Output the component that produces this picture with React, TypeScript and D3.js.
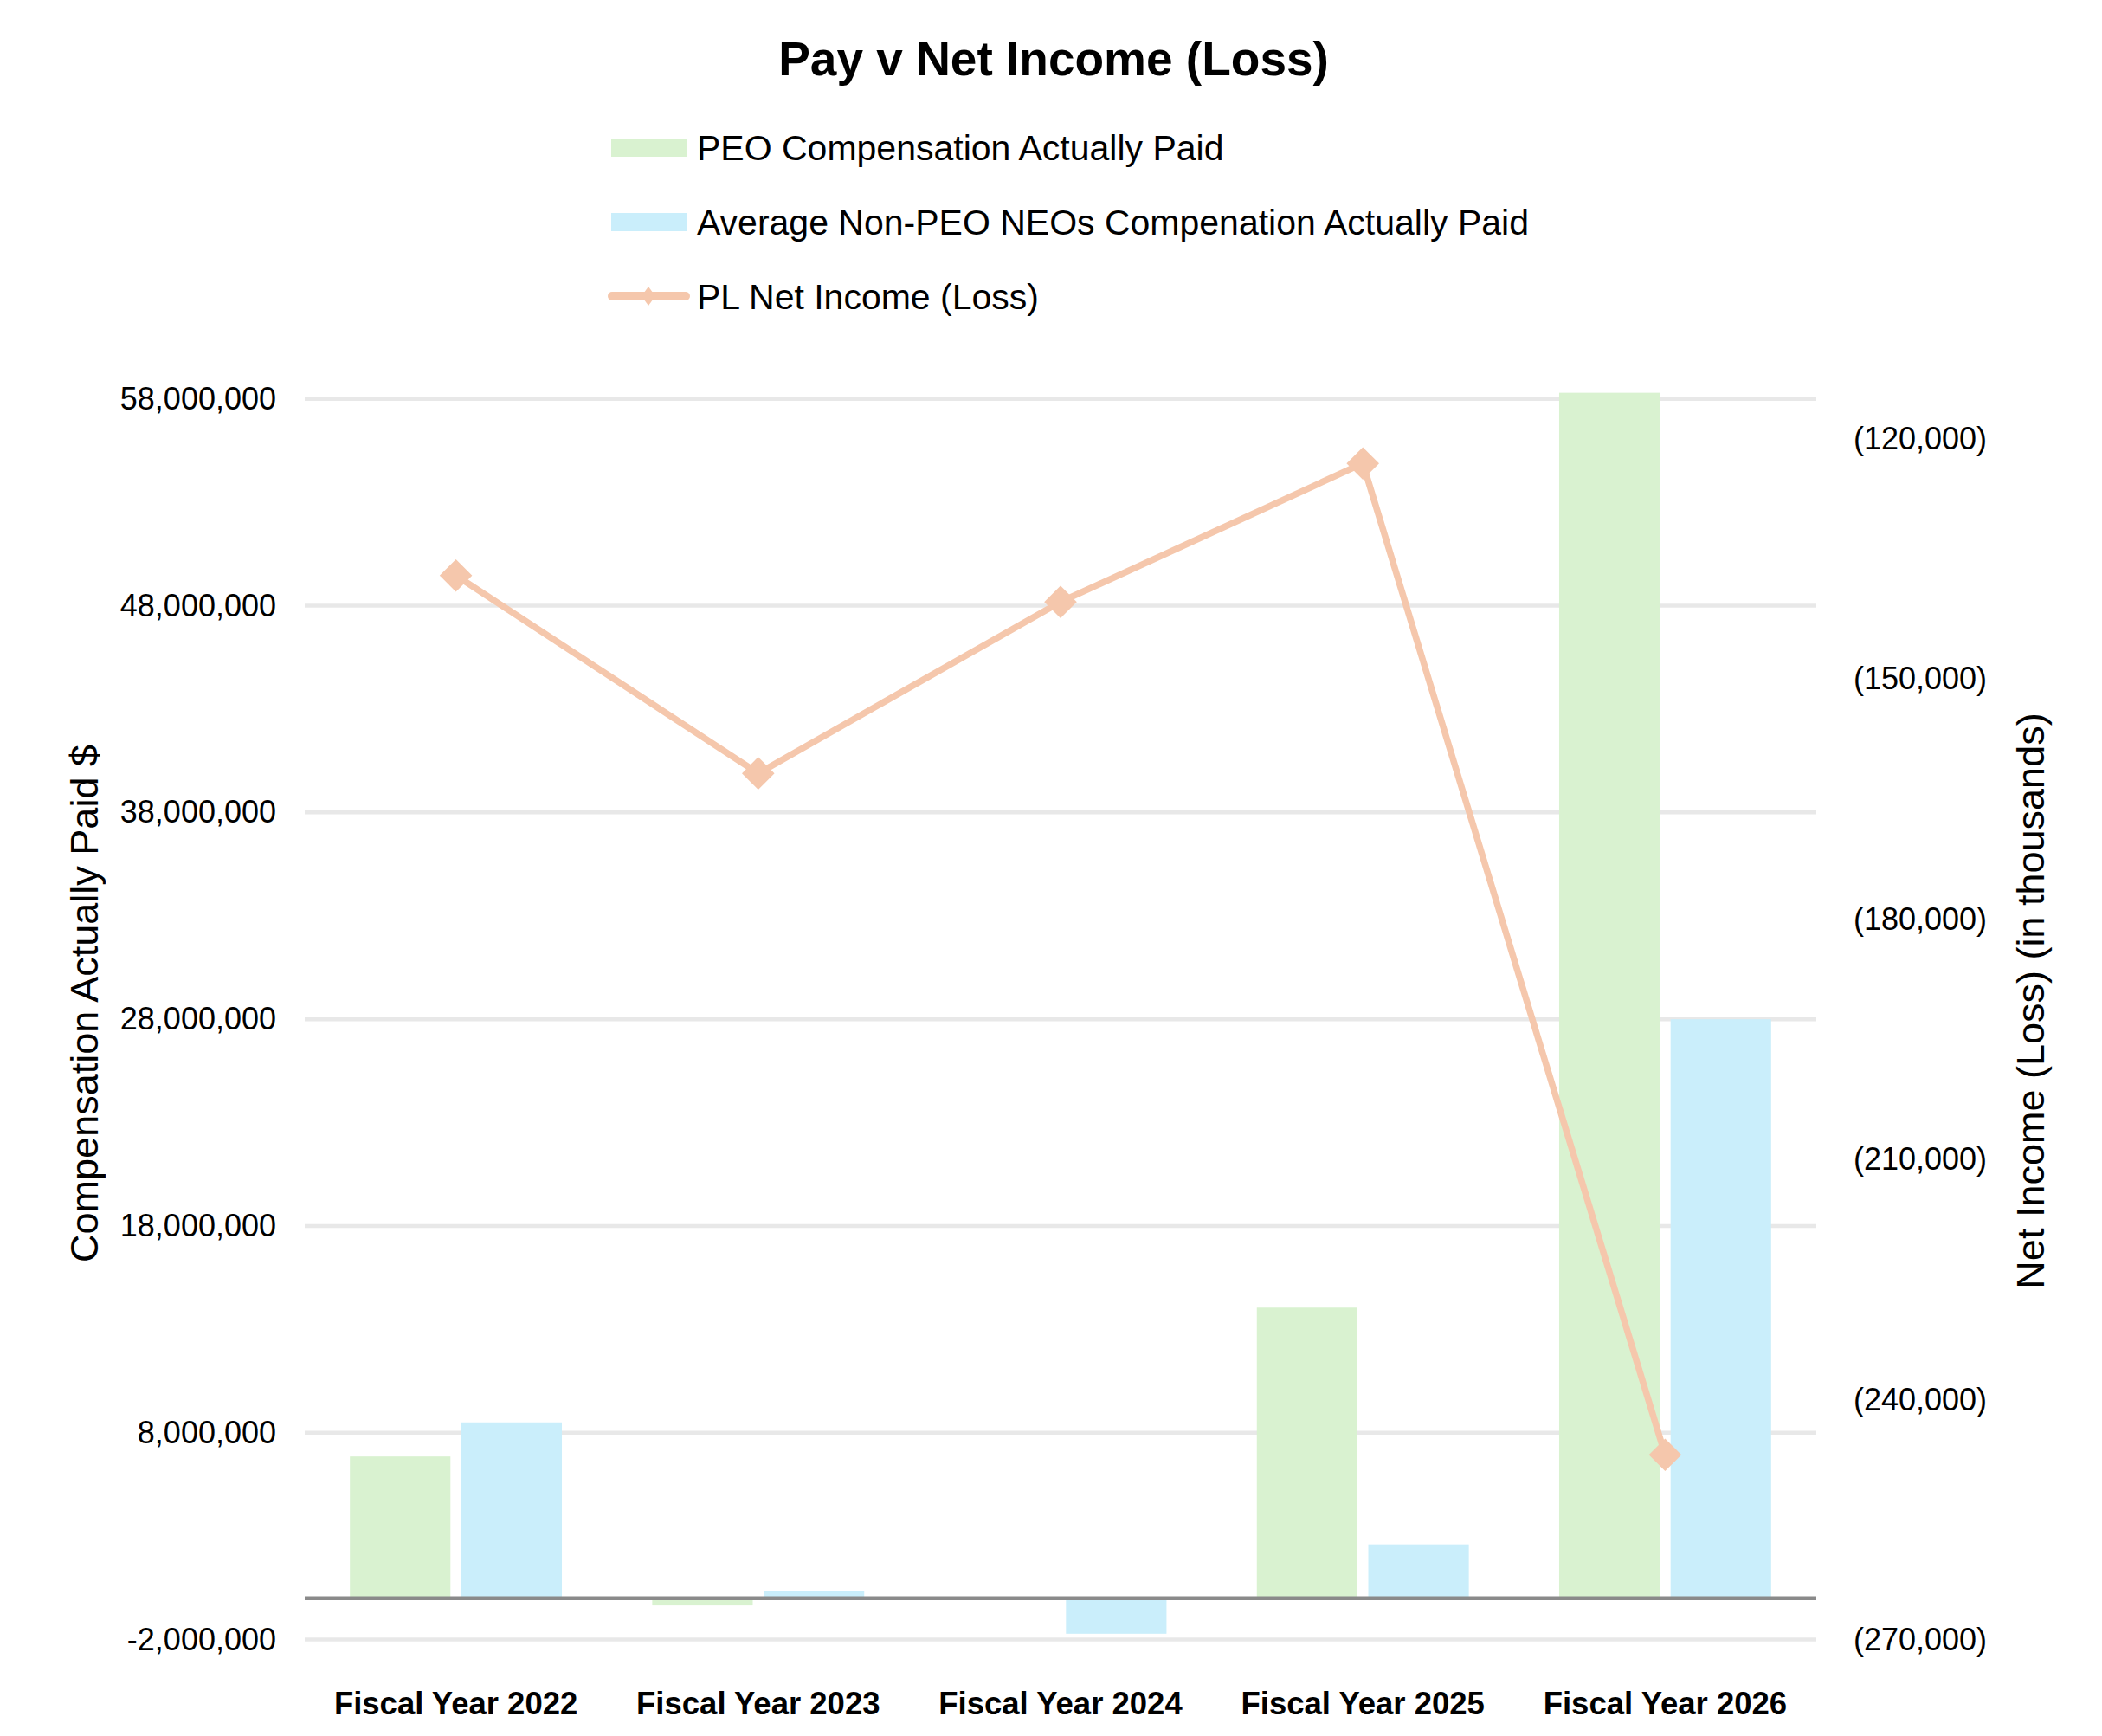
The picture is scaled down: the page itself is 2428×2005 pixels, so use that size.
import React, { useEffect, useRef } from 'react';
import * as d3 from 'd3';

const categories = ['Fiscal Year 2022', 'Fiscal Year 2023', 'Fiscal Year 2024', 'Fiscal Year 2025', 'Fiscal Year 2026'];
const seriesNames = ['PEO Compensation Actually Paid', 'Average Non-PEO NEOs Compenation Actually Paid'];
const peoPaid = [6850000, -350000, 0, 14050000, 58300000];
const neoPaid = [8500000, 350000, -1720000, 2600000, 28000000];
const netIncome = [-137100, -161800, -140400, -123100, -246900];
const leftTicks = [-2000000, 8000000, 18000000, 28000000, 38000000, 48000000, 58000000];
const rightTicks = [-270000, -240000, -210000, -180000, -150000, -120000];
const lineName = 'PL Net Income (Loss)';

const W = 2428;
const H = 2005;
const FONT = '"Liberation Sans", Arial, sans-serif';
const GREEN = '#d9f2d0';
const BLUE = '#caeefb';
const PEACH = '#f5c7ac';

function App() {
  const ref = useRef(null);

  useEffect(() => {
    document.body.style.margin = '0';
    const el = ref.current;
    if (!el) return;
    el.innerHTML = '';
    const svg = d3.select(el).append('svg').attr('width', W).attr('height', H)
      .style('display', 'block').style('background', '#fff');

    const left = 352, right = 2098;
    const x0 = d3.scaleBand().domain(categories).range([left, right]);
    const bw = x0.bandwidth();
    const x1 = d3.scaleBand().domain(seriesNames).range([bw * 0.1494, bw * 0.8506]).paddingInner(0.098);
    const y = d3.scaleLinear().domain([-2000000, 58000000]).range([1893.5, 460.8]);
    const y2 = d3.scaleLinear().domain([-270000, -120000]).range([1894, 506.5]);

    // gridlines
    svg.append('g').selectAll('line').data(leftTicks).enter().append('line')
      .attr('x1', left).attr('x2', right)
      .attr('y1', (d) => y(d)).attr('y2', (d) => y(d))
      .attr('stroke', '#e8e8e8').attr('stroke-width', 4.5);

    // bars
    const groups = svg.append('g').selectAll('g').data(categories).enter().append('g')
      .attr('transform', (d) => `translate(${x0(d)},0)`);
    groups.selectAll('rect')
      .data((_, i) => [
        { s: seriesNames[0], v: peoPaid[i], c: GREEN },
        { s: seriesNames[1], v: neoPaid[i], c: BLUE }
      ])
      .enter().append('rect')
      .attr('x', (d) => x1(d.s))
      .attr('width', x1.bandwidth())
      .attr('y', (d) => Math.min(y(d.v), y(0)))
      .attr('height', (d) => Math.abs(y(d.v) - y(0)))
      .attr('fill', (d) => d.c);

    // zero line
    svg.append('line').attr('x1', left).attr('x2', right)
      .attr('y1', y(0)).attr('y2', y(0))
      .attr('stroke', '#8a8a8a').attr('stroke-width', 4.5);

    // net income line
    const cx = (i) => x0(categories[i]) + bw / 2;
    const line = d3.line().x((_, i) => cx(i)).y((d) => y2(d));
    svg.append('path').datum(netIncome)
      .attr('fill', 'none').attr('stroke', PEACH).attr('stroke-width', 7.5)
      .attr('stroke-linejoin', 'round').attr('d', line);
    const diamond = d3.symbol().type(d3.symbolDiamond2).size(900);
    svg.selectAll('.mk').data(netIncome).enter().append('path')
      .attr('class', 'mk')
      .attr('d', diamond)
      .attr('transform', (d, i) => `translate(${cx(i)},${y2(d)})`)
      .attr('fill', PEACH);

    // left axis
    const fmtL = (d) => d3.format(',')(Math.abs(d)).replace(/^/, d < 0 ? '-' : '');
    const yAxis = d3.axisLeft(y).tickValues(leftTicks).tickFormat(fmtL).tickSize(0).tickPadding(0);
    const gl = svg.append('g').attr('transform', `translate(319,0)`).call(yAxis);
    gl.select('.domain').remove();
    gl.selectAll('text').attr('font-family', FONT).attr('font-size', 36).attr('fill', '#000');

    // right axis
    const fmtR = (d) => `(${d3.format(',')(Math.abs(d))})`;
    const yAxis2 = d3.axisRight(y2).tickValues(rightTicks).tickFormat(fmtR).tickSize(0).tickPadding(0);
    const gr = svg.append('g').attr('transform', `translate(2141,0)`).call(yAxis2);
    gr.select('.domain').remove();
    gr.selectAll('text').attr('font-family', FONT).attr('font-size', 36).attr('fill', '#000');

    // x labels
    svg.append('g').selectAll('text').data(categories).enter().append('text')
      .attr('x', (d) => x0(d) + bw / 2).attr('y', 1980)
      .attr('text-anchor', 'middle')
      .attr('font-family', FONT).attr('font-size', 36.5).attr('font-weight', 'bold')
      .text((d) => d);

    // axis titles
    svg.append('text')
      .attr('transform', 'translate(97,1159) rotate(-90)')
      .attr('text-anchor', 'middle').attr('dominant-baseline', 'central')
      .attr('font-family', FONT).attr('font-size', 45)
      .text('Compensation Actually Paid $');
    svg.append('text')
      .attr('transform', 'translate(2345,1156) rotate(-90)')
      .attr('text-anchor', 'middle').attr('dominant-baseline', 'central')
      .attr('font-family', FONT).attr('font-size', 45)
      .text('Net Income (Loss) (in thousands)');

    // title
    svg.append('text')
      .attr('x', 1217).attr('y', 87)
      .attr('text-anchor', 'middle')
      .attr('font-family', FONT).attr('font-size', 55).attr('font-weight', 'bold')
      .text('Pay v Net Income (Loss)');

    // legend
    const lg = svg.append('g');
    const rows = [170.5, 256.5, 342];
    lg.append('rect').attr('x', 706).attr('y', rows[0] - 10.5).attr('width', 88).attr('height', 21).attr('fill', GREEN);
    lg.append('rect').attr('x', 706).attr('y', rows[1] - 10.5).attr('width', 88).attr('height', 21).attr('fill', BLUE);
    lg.append('line').attr('x1', 707).attr('x2', 792).attr('y1', rows[2]).attr('y2', rows[2])
      .attr('stroke', PEACH).attr('stroke-width', 10).attr('stroke-linecap', 'round');
    lg.append('path').attr('d', 'M0,-11L8,0L0,11L-8,0Z')
      .attr('transform', `translate(749,${rows[2]})`).attr('fill', PEACH);
    const labels = [seriesNames[0], seriesNames[1], lineName];
    lg.selectAll('text').data(labels).enter().append('text')
      .attr('x', 805).attr('y', (_, i) => rows[i] + 14.5)
      .attr('font-family', FONT).attr('font-size', 41)
      .text((d) => d);
  }, []);

  return <div ref={ref} />;
}

export default App;
